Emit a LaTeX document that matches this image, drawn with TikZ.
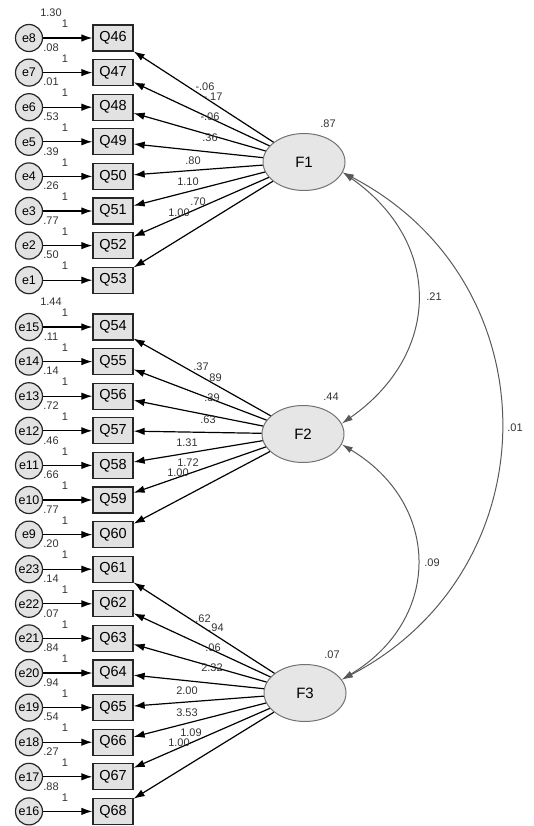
\documentclass[tikz,border=0pt]{standalone}
\usepackage{fontspec}
\setmainfont{Liberation Sans}
\usetikzlibrary{arrows.meta,shapes.geometric}
\definecolor{boxfill}{HTML}{E2E2E2}
\definecolor{facfill}{HTML}{E6E6E6}
\begin{document}
\begin{tikzpicture}[x=1pt,y=-1pt,
  qbox/.style={draw=black!85, fill=boxfill, line width=1.3pt, minimum width=40pt, minimum height=26pt, inner sep=0pt, font=\fontsize{14.5}{15}\selectfont},
  errc/.style={circle, draw=black!85, fill=boxfill, line width=1.2pt, minimum size=27pt, inner sep=0pt, font=\fontsize{12.5}{13}\selectfont},
  fac/.style={ellipse, draw=black!55, fill=facfill, line width=1pt, minimum width=82pt, minimum height=57pt, inner sep=0pt, font=\fontsize{15}{15}\selectfont},
  lbl/.style={inner sep=0pt, font=\fontsize{11}{11}\selectfont, text=black!80},
  load/.style={draw=black, line width=1.2pt, -{Latex[length=11pt,width=7.5pt]}},
  covarrow/.style={draw=black!65, line width=1pt, {Latex[length=11pt,width=6.5pt]}-{Latex[length=11pt,width=6.5pt]}}
]
\useasboundingbox (0,0) rectangle (533,826);

% indicators and errors
\foreach \q/\e/\y/\v in {46/8/38/1.30,47/7/72.6/.08,48/6/107.2/.01,49/5/141.8/.53,50/4/176.4/.39,51/3/211/.26,52/2/245.6/.77,53/1/280.2/.50,
  54/15/327/1.44,55/14/361.6/.11,56/13/396.2/.14,57/12/430.8/.72,58/11/465.4/.46,59/10/500/.66,60/9/534.6/.77,
  61/23/569.2/.20,62/22/603.8/.14,63/21/638.4/.07,64/20/673/.84,65/19/707.6/.94,66/18/742.2/.54,67/17/776.8/.27,68/16/811.4/.88} {
  \node[qbox] (Q\q) at (113,\y) {Q\q};
  \node[errc] (e\e) at (29,\y) {e\e};
  \draw[load] (e\e) -- (Q\q);
  \node[lbl] (one\q) at (65,\y-14) {1};
  \node[lbl] (v\e) at (51,\y-25) {\v};
}

% factors
\node[fac] (F1) at (304,162) {F1};
\node[fac] (F2) at (303,434) {F2};
\node[fac] (F3) at (305,693) {F3};
\node[lbl] (vF1) at (328,124) {.87};
\node[lbl] (vF2) at (331,397) {.44};
\node[lbl] (vF3) at (332,655) {.07};

% loadings
\foreach \q in {46,...,53} \draw[load] (F1) -- (Q\q);
\foreach \q in {54,...,60} \draw[load] (F2) -- (Q\q);
\foreach \q in {61,...,68} \draw[load] (F3) -- (Q\q);

% loading labels
\node[lbl] (l46) at (205,87) {-.06};
\node[lbl] (l47) at (213,97) {-.17};
\node[lbl] (l48) at (210,117) {-.06};
\node[lbl] (l49) at (210,138) {.36};
\node[lbl] (l50) at (193,161) {.80};
\node[lbl] (l51) at (188,182) {1.10};
\node[lbl] (l52) at (198,202) {.70};
\node[lbl] (l53) at (179,213) {1.00};

\node[lbl] (l54) at (201,367) {.37};
\node[lbl] (l55) at (214,378) {.89};
\node[lbl] (l56) at (212,398) {.39};
\node[lbl] (l57) at (208,420) {.63};
\node[lbl] (l58) at (187,443) {1.31};
\node[lbl] (l59) at (188,463) {1.72};
\node[lbl] (l60) at (178,473) {1.00};

\node[lbl] (l61) at (203,619) {.62};
\node[lbl] (l62) at (216,628) {.94};
\node[lbl] (l63) at (213,648) {.06};
\node[lbl] (l64) at (212,668) {2.32};
\node[lbl] (l65) at (187,691) {2.00};
\node[lbl] (l66) at (187,713) {3.53};
\node[lbl] (l67) at (191,733) {1.09};
\node[lbl] (l68) at (179,743) {1.00};

% covariances
\draw[covarrow] (F1.-15) .. controls +(100,70) and +(100,-70) .. (F2.15);
\draw[covarrow] (F2.-15) .. controls +(100,60) and +(100,-60) .. (F3.20);
\draw[covarrow] (F1.-15) .. controls +(211,110) and +(211,-110) .. (F3.20);
\node[lbl] (c12) at (434,297) {.21};
\node[lbl] (c23) at (432,563) {.09};
\node[lbl] (c13) at (515,428) {.01};
\end{tikzpicture}
\end{document}
